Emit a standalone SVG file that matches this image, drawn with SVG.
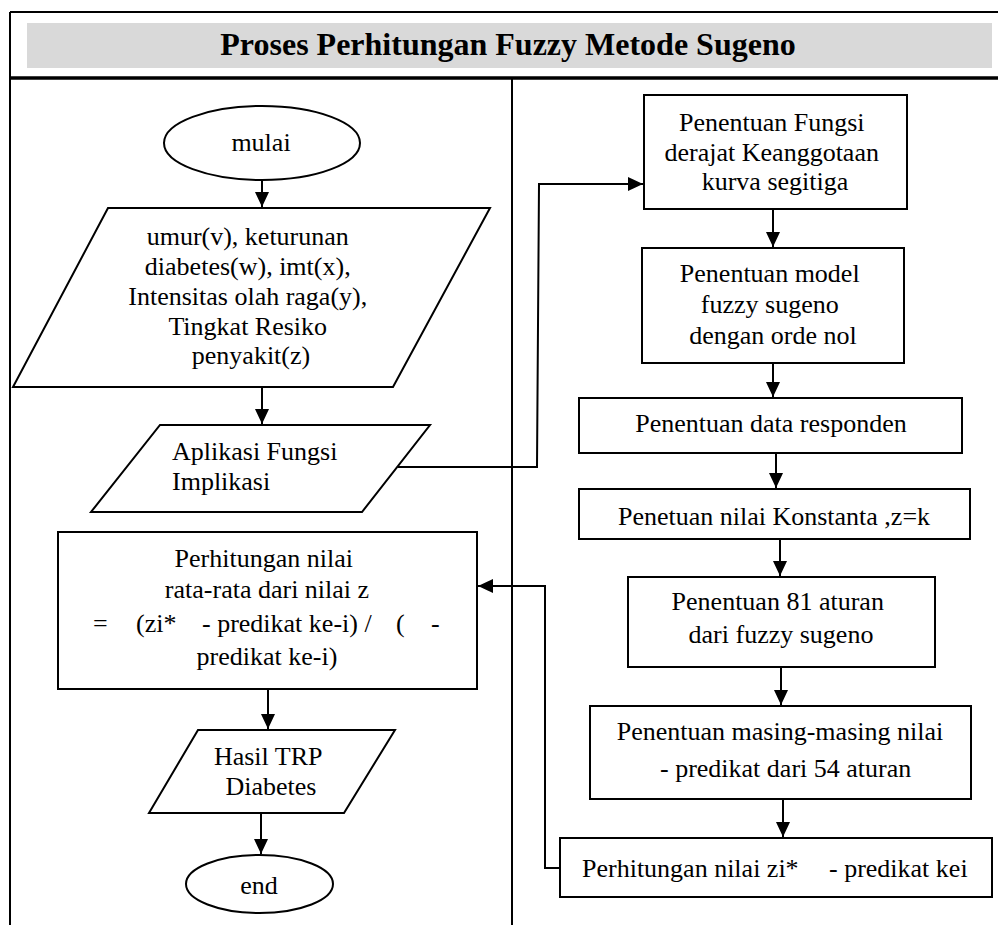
<svg xmlns="http://www.w3.org/2000/svg" width="998" height="925" viewBox="0 0 998 925">
  <style>
    .shape { fill: #ffffff; stroke: #000000; stroke-width: 2; }
    .frame { fill: none; stroke: #000000; stroke-width: 2; }
    .link { fill: none; stroke: #000000; stroke-width: 2; }
    .txt { font-family: "Liberation Serif", "Times New Roman", serif; font-size: 26px; fill: #000000; }
    .mid { text-anchor: middle; }
    .title { font-family: "Liberation Serif", "Times New Roman", serif; font-size: 32px; font-weight: bold; text-anchor: middle; fill: #000000; }
  </style>
  <defs>
    <marker id="arrow" markerUnits="userSpaceOnUse" markerWidth="16" markerHeight="14" refX="15" refY="7" orient="auto">
      <path d="M0,0 L15,7 L0,14 z" fill="#000000"/>
    </marker>
  </defs>

  <rect x="0" y="0" width="998" height="925" fill="#ffffff"/>

  <!-- swimlane frame and header -->
  <g id="frame">
    <rect x="27" y="23" width="965" height="45" fill="#d9d9d9"/>
    <line class="frame" x1="10" y1="12" x2="998" y2="12"/>
    <line class="frame" x1="10" y1="12" x2="10" y2="925"/>
    <line x1="10" y1="78" x2="998" y2="78" stroke="#000000" stroke-width="3.5"/>
    <line class="frame" x1="512" y1="78" x2="512" y2="925"/>
    <text class="title" x="508" y="55">Proses Perhitungan Fuzzy Metode Sugeno</text>
  </g>

  <!-- connectors -->
  <g id="connectors">
    <line class="link" x1="262" y1="180" x2="262" y2="207" marker-end="url(#arrow)"/>
    <line class="link" x1="262" y1="387" x2="262" y2="424" marker-end="url(#arrow)"/>
    <polyline class="link" points="398,467 537,467 539,184 643,184" marker-end="url(#arrow)"/>
    <line class="link" x1="773" y1="209" x2="773" y2="247" marker-end="url(#arrow)"/>
    <line class="link" x1="773" y1="363" x2="773" y2="397" marker-end="url(#arrow)"/>
    <line class="link" x1="776" y1="453" x2="776" y2="488" marker-end="url(#arrow)"/>
    <line class="link" x1="780" y1="539" x2="780" y2="576" marker-end="url(#arrow)"/>
    <line class="link" x1="781" y1="667" x2="781" y2="705" marker-end="url(#arrow)"/>
    <line class="link" x1="783" y1="799" x2="783" y2="837" marker-end="url(#arrow)"/>
    <polyline class="link" points="560,868 545,868 545,586 478,586" marker-end="url(#arrow)"/>
    <line class="link" x1="268" y1="689" x2="268" y2="729" marker-end="url(#arrow)"/>
    <line class="link" x1="261" y1="813" x2="261" y2="854" marker-end="url(#arrow)"/>
  </g>

  <!-- left lane -->
  <g id="mulai">
    <ellipse class="shape" cx="262" cy="143" rx="98" ry="37"/>
    <text class="txt mid" x="261" y="151">mulai</text>
  </g>

  <g id="input-variabel">
    <polygon class="shape" points="108,208 490,208 393,387 13,387"/>
    <text class="txt mid">
      <tspan x="251" y="245">umur(v), keturunan</tspan>
      <tspan x="251" y="275">diabetes(w), imt(x),</tspan>
      <tspan x="251" y="305">Intensitas olah raga(y),</tspan>
      <tspan x="251" y="335">Tingkat Resiko</tspan>
      <tspan x="251" y="364">penyakit(z)</tspan>
    </text>
  </g>

  <g id="aplikasi-implikasi">
    <polygon class="shape" points="160,425 430,425 362,512 91,512"/>
    <text class="txt">
      <tspan x="172" y="460">Aplikasi Fungsi</tspan>
      <tspan x="172" y="490">Implikasi</tspan>
    </text>
  </g>

  <g id="rata-rata">
    <rect class="shape" x="58" y="532" width="419" height="157"/>
    <text class="txt mid">
      <tspan x="267" y="567">Perhitungan nilai</tspan>
      <tspan x="267" y="598">rata-rata dari nilai z</tspan>
    </text>
    <text class="txt">
      <tspan x="93" y="632">=</tspan>
      <tspan x="136" y="632">(zi*</tspan>
      <tspan x="202" y="632">- predikat ke-i) /</tspan>
      <tspan x="396" y="632">(</tspan>
      <tspan x="431" y="632">-</tspan>
    </text>
    <text class="txt mid" x="267" y="665">predikat ke-i)</text>
  </g>

  <g id="hasil-trp">
    <polygon class="shape" points="198,730 395,730 344,813 149,813"/>
    <text class="txt mid">
      <tspan x="271" y="765">Hasil TRP</tspan>
      <tspan x="271" y="795">Diabetes</tspan>
    </text>
  </g>

  <g id="end">
    <ellipse class="shape" cx="259.5" cy="884" rx="73.5" ry="29"/>
    <text class="txt mid" x="259" y="894">end</text>
  </g>

  <!-- right lane -->
  <g id="fungsi-keanggotaan">
    <rect class="shape" x="644" y="95" width="263" height="114"/>
    <text class="txt mid">
      <tspan x="775" y="131">Penentuan Fungsi</tspan>
      <tspan x="775" y="161">derajat Keanggotaan</tspan>
      <tspan x="775" y="190">kurva segitiga</tspan>
    </text>
  </g>

  <g id="model-sugeno">
    <rect class="shape" x="642" y="248" width="262" height="115"/>
    <text class="txt mid">
      <tspan x="773" y="282">Penentuan model</tspan>
      <tspan x="773" y="313">fuzzy sugeno</tspan>
      <tspan x="773" y="344">dengan orde nol</tspan>
    </text>
  </g>

  <g id="data-responden">
    <rect class="shape" x="579" y="398" width="383" height="55"/>
    <text class="txt mid" x="771" y="432">Penentuan data responden</text>
  </g>

  <g id="konstanta">
    <rect class="shape" x="579" y="489" width="391" height="50"/>
    <text class="txt mid" x="774" y="525">Penetuan nilai Konstanta ,z=k</text>
  </g>

  <g id="aturan-81">
    <rect class="shape" x="628" y="577" width="307" height="90"/>
    <text class="txt mid">
      <tspan x="781" y="610">Penentuan 81 aturan</tspan>
      <tspan x="781" y="643">dari fuzzy sugeno</tspan>
    </text>
  </g>

  <g id="predikat-aturan">
    <rect class="shape" x="590" y="706" width="381" height="93"/>
    <text class="txt mid" x="780" y="740">Penentuan masing-masing nilai</text>
    <text class="txt" x="660" y="777">- predikat dari 54 aturan</text>
  </g>

  <g id="zi-predikat">
    <rect class="shape" x="560" y="838" width="432" height="59"/>
    <text class="txt">
      <tspan x="582" y="877">Perhitungan nilai zi*</tspan>
      <tspan x="829" y="877">- predikat kei</tspan>
    </text>
  </g>
</svg>
